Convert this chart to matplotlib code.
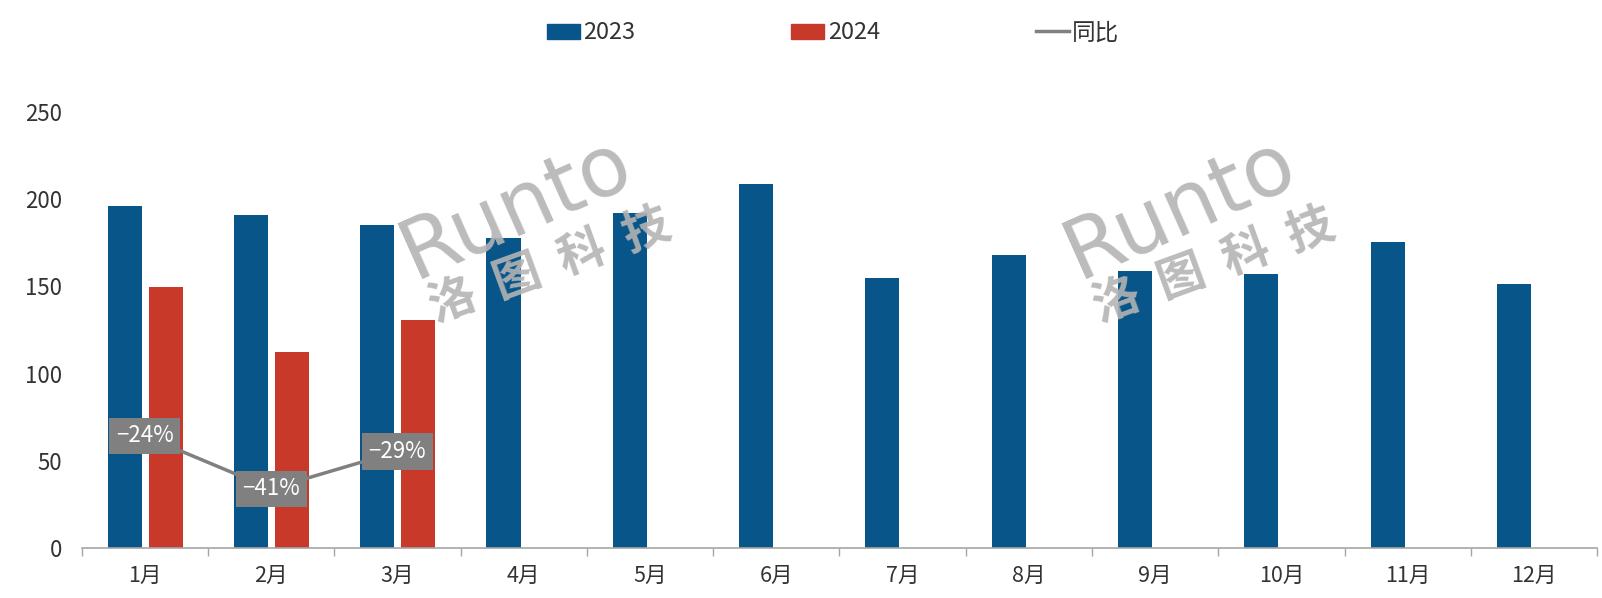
import numpy as np
import matplotlib
matplotlib.use('Agg')
import matplotlib.pyplot as plt
from matplotlib.lines import Line2D
from matplotlib.patches import Patch

plt.rcParams['font.family'] = ['Noto Sans CJK SC', 'DejaVu Sans']

months = ['1月', '2月', '3月', '4月', '5月', '6月', '7月', '8月', '9月', '10月', '11月', '12月']
sales_2023 = [196, 191, 185, 178, 192, 208.5, 155, 168, 159, 157, 175.5, 151.5]
sales_2024 = [149.5, 112.5, 131]
yoy = [-0.24, -0.41, -0.29]
yoy_labels = ['−24%', '−41%', '−29%']

c23 = '#08558A'
c24 = '#C8392A'
cline = '#808080'
ctxt = '#333333'

fig = plt.figure(figsize=(16.02, 5.98), dpi=100)
ax = fig.add_axes([0.051, 0.0836, 0.946, 0.729])

x = np.arange(len(months))
ax.bar(x - 0.16, sales_2023, width=0.27, color=c23, zorder=2)
ax.bar(x[:len(sales_2024)] + 0.165, sales_2024, width=0.27, color=c24, zorder=2)

ax.set_xlim(-0.5, len(months) - 0.5)
ax.set_ylim(0, 250)
ax.set_yticks([0, 50, 100, 150, 200, 250])
ax.tick_params(axis='y', length=0, pad=14, labelsize=16, labelcolor=ctxt)
ax.set_xticks(x)
ax.set_xticklabels(months)
ax.set_xticks(np.arange(len(months) + 1) - 0.5, minor=True)
ax.tick_params(axis='x', which='major', length=0, pad=12, labelsize=15.5, labelcolor=ctxt)
ax.tick_params(axis='x', which='minor', length=6, color='#A6A6A6', width=1)
for s in ['top', 'right', 'left']:
    ax.spines[s].set_visible(False)
ax.spines['bottom'].set_color('#A6A6A6')
ax.spines['bottom'].set_linewidth(1.2)

# yoy on hidden secondary axis
ax2 = ax.twinx()
ax2.set_ylim(-0.6, 0.8)
ax2.axis('off')
ax2.plot(x[:len(yoy)], yoy, color=cline, lw=2.5, zorder=3)
for xi, v, lab in zip(x, yoy, yoy_labels):
    ax2.text(xi, v, lab, ha='center', va='center', color='white', fontsize=16, zorder=4,
             bbox=dict(boxstyle='square,pad=0.3', fc=cline, ec='none'))

# watermark
for dx in [0, 0.4145]:
    fig.text(0.322 + dx, 0.652, 'Runto', fontsize=60, color='#B4B4B4', alpha=0.9,
             rotation=24, ha='center', va='center', family=['DejaVu Sans'], zorder=10)
    fig.text(0.343 + dx, 0.556, '洛  图  科  技', fontsize=34, color='#B4B4B4', alpha=0.9,
             fontweight='bold', rotation=20, ha='center', va='center', zorder=10)

handles = [Patch(color=c23), Patch(color=c24), Line2D([], [], color=cline, lw=2.5)]
fig.legend(handles, ['2023', '2024', '同比'], loc='center', bbox_to_anchor=(0.52, 0.945),
           ncol=3, frameon=False, fontsize=17, handlelength=1.4, handleheight=0.6,
           handletextpad=0.15, columnspacing=6.6, labelcolor=ctxt)

fig.savefig('out.png', dpi=100)
